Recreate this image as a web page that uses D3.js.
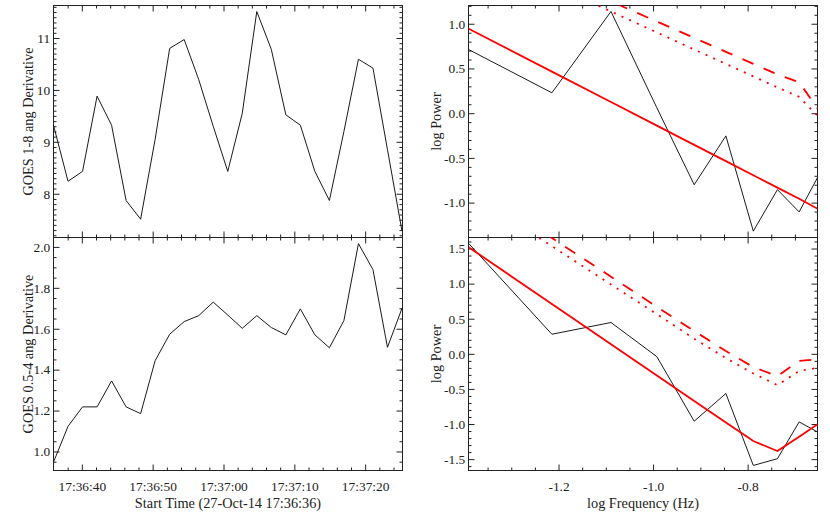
<!DOCTYPE html>
<html>
<head>
<meta charset="utf-8">
<script src="https://cdn.jsdelivr.net/npm/d3@7"></script>
<style>
  html, body { margin: 0; padding: 0; background: #fff; }
  svg { display: block; }
</style>
</head>
<body>
<svg id="chart" width="830" height="529"></svg>
<script>
// ---------------- DATA ----------------
// Seconds after start time 27-Oct-14 17:36:36 (GOES cadence ~2.05 s)
const timeSec = [0, 2.05, 4.1, 6.15, 8.2, 10.25, 12.3, 14.35, 16.4, 18.45, 20.5, 22.55, 24.6,
                 26.65, 28.7, 30.75, 32.8, 34.85, 36.9, 38.95, 41.0, 43.05, 45.1, 47.15, 49.2];
const goes18Deriv = [9.32, 8.24, 8.43, 9.88, 9.32, 7.87, 7.51, 9.05, 10.8, 10.97, 10.2, 9.3, 8.43,
                     9.55, 11.51, 10.78, 9.52, 9.32, 8.43, 7.87, 9.2, 10.59, 10.42, 8.85, 7.28];
const goes054Deriv = [0.948, 1.123, 1.218, 1.218, 1.345, 1.218, 1.185, 1.444, 1.573, 1.635, 1.664, 1.730, 1.667,
                      1.602, 1.664, 1.606, 1.570, 1.697, 1.570, 1.507, 1.640, 2.016, 1.889, 1.509, 1.700];

// log Frequency (Hz)
const logFreq = [-1.390, -1.214, -1.089, -0.992, -0.913, -0.846, -0.788, -0.737, -0.691, -0.652];
// Top spectrum (1-8 ang)
const powerTop   = [0.711, 0.228, 1.137, 0.06, -0.80, -0.254, -1.319, -0.855, -1.104, -0.718];
const fitTop     = [0.944, 0.465, 0.125, -0.139, -0.354, -0.536, -0.694, -0.832, -0.957, -1.069];
const confHiTop  = [1.948, 1.540, 1.250, 1.025, 0.842, 0.686, 0.552, 0.433, 0.345, 0.053];
const confLoTop  = [1.862, 1.438, 1.137, 0.903, 0.712, 0.551, 0.411, 0.288, 0.183, -0.03];
// Bottom spectrum (0.5-4 ang)
const powerBot   = [1.572, 0.279, 0.446, -0.04, -0.96, -0.565, -1.59, -1.494, -0.97, -1.114];
const fitBot     = [1.518, 0.710, 0.136, -0.309, -0.672, -0.979, -1.242, -1.385, -1.18, -1.003];
const confHiBot  = [2.42, 1.65, 1.099, 0.67, 0.325, 0.04, -0.19, -0.317, -0.10, -0.078];
const confLoBot  = [2.30, 1.534, 0.987, 0.565, 0.215, -0.06, -0.28, -0.446, -0.245, -0.20];

// Tick labels
const timeTicks = ["17:36:40", "17:36:50", "17:37:00", "17:37:10", "17:37:20"];
const freqTicks = [-1.2, -1.0, -0.8];
const yTicksTL = [8, 9, 10, 11];
const yTicksBL = [1.0, 1.2, 1.4, 1.6, 1.8, 2.0];
const yTicksTR = [1.0, 0.5, 0.0, -0.5, -1.0];
const yTicksBR = [1.5, 1.0, 0.5, 0.0, -0.5, -1.0, -1.5];

// ---------------- LAYOUT ----------------
const svg = d3.select("#chart");
const FONT = "'Liberation Serif', 'Times New Roman', serif";
const INK = "#222";
const t0 = Date.UTC(2014, 9, 27, 17, 36, 36);
const toDate = s => new Date(t0 + s * 1000);
const parseT = str => { const [h, m, s] = str.split(":").map(Number); return new Date(Date.UTC(2014, 9, 27, h, m, s)); };

const LX = [53.5, 402.5], RX = [468.5, 817.5];
const TY = [237.5, 5.5], BY = [470.5, 237.5];

const xTime = d3.scaleUtc().domain([toDate(0), toDate(49.27)]).range(LX);
const xFreq = d3.scaleLinear().domain([-1.3904, -0.6522]).range(RX);
const yTL = d3.scaleLinear().domain([7.157, 11.626]).range(TY);
const yBL = d3.scaleLinear().domain([0.907, 2.046]).range(BY);
const yTR = d3.scaleLinear().domain([-1.39, 1.204]).range(TY);
const yBR = d3.scaleLinear().domain([-1.662, 1.657]).range(BY);

const fmt1 = d => d.toFixed(1);
const fmtInt = d => String(d);
const fmtTime = d3.utcFormat("%H:%M:%S");

let clipId = 0;
function panel(x, y, cfg) {
  const g = svg.append("g");
  const [x0, x1] = x.range();
  const [y1, y0] = y.range();
  const id = "clip" + (clipId++);
  svg.append("clipPath").attr("id", id).append("rect")
    .attr("x", x0).attr("y", y0).attr("width", x1 - x0).attr("height", y1 - y0);

  function styleAxis(sel) {
    sel.select(".domain").remove();
    sel.selectAll(".tick line").attr("stroke", INK).attr("stroke-width", 1);
    sel.selectAll("text").attr("font-family", FONT).attr("font-size", 13.4).attr("fill", INK);
  }
  // X axes (bottom, top)
  const xMaj = cfg.xMajor, xMin = cfg.xMinor;
  [[d3.axisBottom, y1], [d3.axisTop, y0]].forEach(([fn, yy], i) => {
    g.append("g").attr("transform", `translate(0,${yy})`)
      .call(fn(x).tickValues(xMin).tickSize(-3).tickSizeOuter(0).tickFormat("")).call(styleAxis);
    g.append("g").attr("transform", `translate(0,${yy})`)
      .call(fn(x).tickValues(xMaj).tickSize(-6).tickSizeOuter(0).tickPadding(11)
        .tickFormat(i === 0 && cfg.showX ? cfg.xFmt : "")).call(styleAxis);
  });
  // Y axes (left, right)
  [[d3.axisLeft, x0], [d3.axisRight, x1]].forEach(([fn, xx], i) => {
    g.append("g").attr("transform", `translate(${xx},0)`)
      .call(fn(y).tickValues(cfg.yMinor).tickSize(-3).tickSizeOuter(0).tickFormat("")).call(styleAxis);
    g.append("g").attr("transform", `translate(${xx},0)`)
      .call(fn(y).tickValues(cfg.yMajor).tickSize(-6).tickSizeOuter(0).tickPadding(3.3)
        .tickFormat(i === 0 ? cfg.yFmt : "")).call(styleAxis);
  });
  g.append("rect").attr("x", x0).attr("y", y0).attr("width", x1 - x0).attr("height", y1 - y0)
    .attr("fill", "none").attr("stroke", INK).attr("stroke-width", 1);

  const plot = g.append("g").attr("clip-path", `url(#${id})`);
  cfg.series.forEach(s => {
    const line = d3.line().x((d, i) => x(s.x[i])).y(d => y(d));
    plot.append("path").datum(s.y).attr("d", line).attr("fill", "none")
      .attr("stroke", s.color).attr("stroke-width", s.width)
      .attr("stroke-dasharray", s.dash || null).attr("stroke-linejoin", "miter");
  });

  // Y title
  const cy = (y0 + y1) / 2;
  g.append("text").attr("transform", `translate(${cfg.yTitleX},${cy}) rotate(-90)`)
    .attr("text-anchor", "middle").attr("font-family", FONT).attr("font-size", 14.3).attr("fill", INK)
    .text(cfg.yTitle);
  if (cfg.xTitle) {
    g.append("text").attr("x", (x0 + x1) / 2).attr("y", 508).attr("text-anchor", "middle")
      .attr("font-family", FONT).attr("font-size", 14.3).attr("fill", INK).text(cfg.xTitle);
  }
}

const timeDates = timeSec.map(toDate);
const timeMajor = timeTicks.map(parseT);
const timeMinor = d3.range(2, 50, 2).map(toDate).filter(d => !timeMajor.some(m => +m === +d));
const freqMinor = d3.range(-135, -65, 5).map(d => d / 100).filter(d => !freqTicks.some(m => Math.abs(m - d) < 1e-9));

const BLACK = "#1a1a1a", RED = "#ff0000";

panel(xTime, yTL, {
  xMajor: timeMajor, xMinor: timeMinor, showX: false, xFmt: fmtTime,
  yMajor: yTicksTL, yMinor: d3.range(72, 117).map(d => d / 10).filter(d => d % 1 !== 0), yFmt: fmtInt,
  yTitle: "GOES 1-8 ang Derivative", yTitleX: 32.5,
  series: [{ x: timeDates, y: goes18Deriv, color: BLACK, width: 1 }]
});
panel(xTime, yBL, {
  xMajor: timeMajor, xMinor: timeMinor, showX: true, xFmt: fmtTime,
  yMajor: yTicksBL, yMinor: d3.range(19, 41).map(d => d / 20).filter(d => Math.abs(d * 5 - Math.round(d * 5)) > 1e-9), yFmt: fmt1,
  yTitle: "GOES 0.5-4 ang Derivative", yTitleX: 32.5, xTitle: "Start Time (27-Oct-14 17:36:36)",
  series: [{ x: timeDates, y: goes054Deriv, color: BLACK, width: 1 }]
});
panel(xFreq, yTR, {
  xMajor: freqTicks, xMinor: freqMinor, showX: false, xFmt: fmt1,
  yMajor: yTicksTR, yMinor: d3.range(-13, 13).map(d => d / 10).filter(d => Math.abs(d * 2 - Math.round(d * 2)) > 1e-9), yFmt: fmt1,
  yTitle: "log Power", yTitleX: 440.8,
  series: [
    { x: logFreq, y: powerTop, color: BLACK, width: 1 },
    { x: logFreq, y: fitTop, color: RED, width: 1.8 },
    { x: logFreq, y: confHiTop, color: RED, width: 1.8, dash: "12,11" },
    { x: logFreq, y: confLoTop, color: RED, width: 1.8, dash: "2,6.4" }
  ]
});
panel(xFreq, yBR, {
  xMajor: freqTicks, xMinor: freqMinor, showX: true, xFmt: fmt1,
  yMajor: yTicksBR, yMinor: d3.range(-16, 17).map(d => d / 10).filter(d => Math.abs(d * 2 - Math.round(d * 2)) > 1e-9), yFmt: fmt1,
  yTitle: "log Power", yTitleX: 440.8, xTitle: "log Frequency (Hz)",
  series: [
    { x: logFreq, y: powerBot, color: BLACK, width: 1 },
    { x: logFreq, y: fitBot, color: RED, width: 1.8 },
    { x: logFreq, y: confHiBot, color: RED, width: 1.8, dash: "12,11" },
    { x: logFreq, y: confLoBot, color: RED, width: 1.8, dash: "2,6.4" }
  ]
});
</script>
</body>
</html>
